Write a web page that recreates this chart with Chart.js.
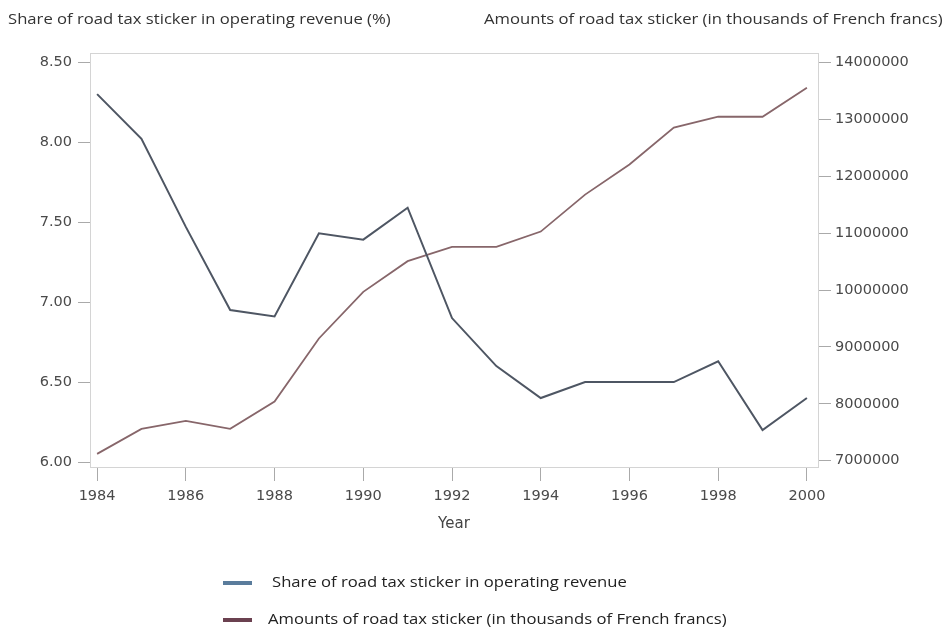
<!DOCTYPE html>
<html>
<head>
<meta charset="utf-8">
<script src="https://cdn.jsdelivr.net/npm/chart.js@4"></script>
<style>
  html, body { margin: 0; padding: 0; background: #fff; }
  #wrap { position: relative; width: 947px; height: 633px; }
  #c { position: absolute; left: 0; top: 0; }
  .ttl, .leg { position: absolute; font-family: "Open Sans", sans-serif; font-size: 15px; white-space: nowrap; transform-origin: 0 50%; transform: scaleX(1.11); }
  .ttl { top: 8px; color: #333; }
  .leg { color: #222; }
  .sw { position: absolute; width: 29px; height: 4px; }
</style>
</head>
<body>
<div id="wrap">
  <canvas id="c" width="947" height="633"></canvas>
  <div class="ttl" style="left:8px">Share of road tax sticker in operating revenue (%)</div>
  <div class="ttl" style="left:484px">Amounts of road tax sticker (in thousands of French francs)</div>
  <div class="sw" style="left:223px;top:581px;background:#5a7c9c"></div>
  <div class="leg" style="left:272px;top:571px">Share of road tax sticker in operating revenue</div>
  <div class="sw" style="left:223px;top:618px;background:#6b4150"></div>
  <div class="leg" style="left:268px;top:608px">Amounts of road tax sticker (in thousands of French francs)</div>
</div>
<script>
// Données
const years = [1984, 1985, 1986, 1987, 1988, 1989, 1990, 1991, 1992, 1993, 1994, 1995, 1996, 1997, 1998, 1999, 2000];
const shareValues = [8.30, 8.02, 7.47, 6.95, 6.91, 7.43, 7.39, 7.59, 6.90, 6.60, 6.40, 6.50, 6.50, 6.50, 6.63, 6.20, 6.40];
const amountValues = [7120000, 7560000, 7700000, 7560000, 8040000, 9150000, 9970000, 10510000, 10760000, 10760000, 11030000, 11680000, 12210000, 12860000, 13050000, 13050000, 13560000];
const leftTicks = [6.0, 6.5, 7.0, 7.5, 8.0, 8.5];
const rightTicks = [7000000, 8000000, 9000000, 10000000, 11000000, 12000000, 13000000, 14000000];
const yearTicks = [1984, 1986, 1988, 1990, 1992, 1994, 1996, 1998, 2000];

const tickFont = { family: 'DejaVu Sans, sans-serif', size: 14.5 };

// cadre autour de la zone de tracé
const boxPlugin = {
  id: 'box',
  afterDraw(chart) {
    const a = chart.chartArea;
    const ctx = chart.ctx;
    ctx.save();
    ctx.strokeStyle = '#d4d4d4';
    ctx.lineWidth = 1;
    ctx.strokeRect(a.left + 0.5, a.top + 0.5, a.right - a.left, a.bottom - a.top);
    ctx.restore();
  }
};

new Chart(document.getElementById('c'), {
  type: 'line',
  data: {
    datasets: [
      {
        label: 'Share of road tax sticker in operating revenue',
        data: years.map((y, i) => ({ x: y, y: shareValues[i] })),
        borderColor: '#4e5663',
        borderWidth: 2,
        pointRadius: 0,
        tension: 0,
        yAxisID: 'yL'
      },
      {
        label: 'Amounts of road tax sticker (in thousands of French francs)',
        data: years.map((y, i) => ({ x: y, y: amountValues[i] })),
        borderColor: '#87666a',
        borderWidth: 1.8,
        pointRadius: 0,
        tension: 0,
        yAxisID: 'yR'
      }
    ]
  },
  options: {
    responsive: false,
    animation: false,
    layout: { padding: { top: 53, bottom: 96, left: 0, right: 0 } },
    plugins: { legend: { display: false }, tooltip: { enabled: false } },
    scales: {
      x: {
        type: 'linear',
        min: 1983.84,
        max: 2000.25,
        afterBuildTicks: s => { s.ticks = yearTicks.map(v => ({ value: v })); },
        afterFit: s => { s.height = 70; },
        ticks: { font: tickFont, color: '#4a4a4a', padding: 7, maxRotation: 0, callback: v => String(v) },
        grid: { drawOnChartArea: false, drawTicks: true, tickLength: 14, color: '#aaa' },
        border: { display: false },
        title: { display: true, text: 'Year', font: { family: 'DejaVu Sans, sans-serif', size: 15 }, color: '#444', padding: { top: -3 } }
      },
      yL: {
        position: 'left',
        min: 5.969,
        max: 8.557,
        afterBuildTicks: s => { s.ticks = leftTicks.map(v => ({ value: v })); },
        afterFit: s => { s.width = 90; },
        ticks: { font: tickFont, color: '#4a4a4a', padding: 6, callback: v => v.toFixed(2) },
        grid: { drawOnChartArea: false, drawTicks: true, tickLength: 12, color: '#aaa' },
        border: { display: false }
      },
      yR: {
        position: 'right',
        min: 6889000,
        max: 14171000,
        afterBuildTicks: s => { s.ticks = rightTicks.map(v => ({ value: v })); },
        afterFit: s => { s.width = 129; },
        ticks: { font: tickFont, color: '#4a4a4a', padding: 4, callback: v => String(v) },
        grid: { drawOnChartArea: false, drawTicks: true, tickLength: 13, color: '#aaa' },
        border: { display: false }
      }
    }
  },
  plugins: [boxPlugin]
});
</script>
</body>
</html>
